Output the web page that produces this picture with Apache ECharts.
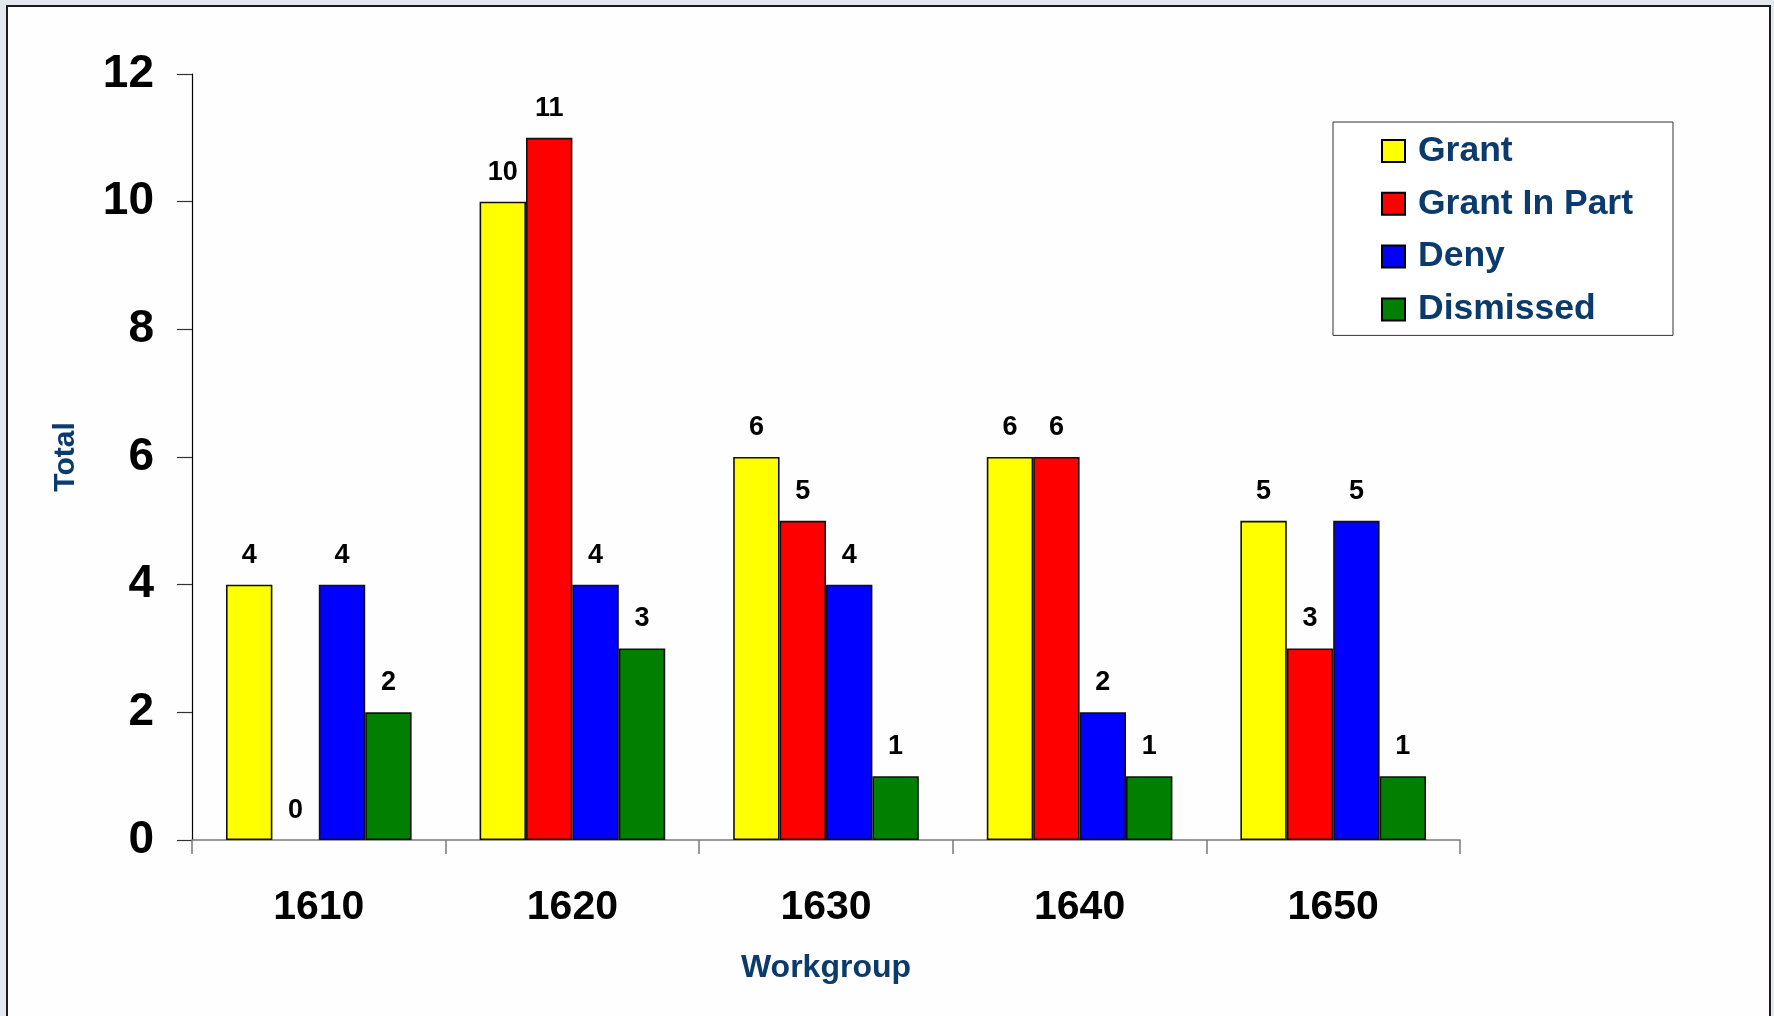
<!DOCTYPE html>
<html>
<head>
<meta charset="utf-8">
<title>Workgroup Totals</title>
<script src="https://cdn.jsdelivr.net/npm/echarts@6/dist/echarts.min.js"></script>
<style>
  html, body { margin: 0; padding: 0; background: #e3e8ee; }
  #chart { width: 1774px; height: 1016px; }
</style>
</head>
<body>
<div id="chart"></div>
<script>
// Workgroups along the x axis
const workgroups = ['1610', '1620', '1630', '1640', '1650'];

// Decision counts per workgroup
const grant       = [4, 10, 6, 6, 5];
const grantInPart = [0, 11, 5, 6, 3];
const deny        = [4, 4, 4, 2, 5];
const dismissed   = [2, 3, 1, 1, 1];

// Y axis range and step
const yMin = 0;
const yMax = 12;
const yStep = 2;

const FONT = "'Liberation Sans', Arial, Helvetica, sans-serif";
const NAVY = '#0b3a6c';

// Zero-height bars get no outline so no stray stroke sits on the axis
function barData(values) {
  return values.map(v => v === 0 ? { value: v, itemStyle: { borderWidth: 0 } } : v);
}

function makeSeries(name, values, color) {
  return {
    name: name,
    type: 'bar',
    data: barData(values),
    barGap: '0%',
    barCategoryGap: '26.8%',
    itemStyle: { color: color, borderColor: '#111', borderWidth: 1.6 },
    label: {
      show: true,
      position: 'top',
      distance: 16,
      color: '#000',
      fontFamily: FONT,
      fontWeight: 'bold',
      fontSize: 27
    },
    emphasis: { disabled: true }
  };
}

const chart = echarts.init(document.getElementById('chart'), null, { renderer: 'canvas' });

chart.setOption({
  animation: false,
  backgroundColor: 'transparent',
  graphic: [
    {
      type: 'rect',
      silent: true,
      z: -100,
      shape: { x: 7, y: 6, width: 1763, height: 1030 },
      style: { fill: '#fefefe', stroke: '#1c1c1c', lineWidth: 2 }
    }
  ],
  grid: { left: 192, right: 314, top: 74, bottom: 176, containLabel: false },
  legend: {
    orient: 'vertical',
    left: 1333,
    top: 122,
    padding: [11, 40, 8, 48],
    itemGap: 16.8,
    itemWidth: 23,
    itemHeight: 22,
    icon: 'rect',
    backgroundColor: '#ffffff',
    borderColor: '#333',
    borderWidth: 1,
    borderRadius: 0,
    itemStyle: { borderColor: '#000', borderWidth: 2 },
    textStyle: {
      color: NAVY,
      fontFamily: FONT,
      fontWeight: 'bold',
      fontSize: 35.5,
      padding: [0, 0, 0, 8]
    },
    selectedMode: false
  },
  xAxis: {
    type: 'category',
    data: workgroups,
    boundaryGap: true,
    name: 'Workgroup',
    nameLocation: 'middle',
    nameGap: 112,
    nameTextStyle: { color: NAVY, fontFamily: FONT, fontWeight: 'bold', fontSize: 32 },
    axisLine: { show: true, lineStyle: { color: '#7a7a7a', width: 1.5 } },
    axisTick: { show: true, alignWithLabel: false, length: 14, lineStyle: { color: '#7a7a7a', width: 1.5 } },
    axisLabel: {
      color: '#000',
      fontFamily: FONT,
      fontWeight: 'bold',
      fontSize: 41,
      margin: 47
    },
    splitLine: { show: false }
  },
  yAxis: {
    type: 'value',
    min: yMin,
    max: yMax,
    interval: yStep,
    name: 'Total',
    nameLocation: 'middle',
    nameRotate: 90,
    nameGap: 111,
    nameTextStyle: { color: NAVY, fontFamily: FONT, fontWeight: 'bold', fontSize: 30 },
    axisLine: { show: true, lineStyle: { color: '#000', width: 1.2 } },
    axisTick: { show: true, inside: false, length: 15, lineStyle: { color: '#333', width: 1.2 } },
    axisLabel: {
      color: '#000',
      fontFamily: FONT,
      fontWeight: 'bold',
      fontSize: 46,
      margin: 38,
      padding: [6, 0, 0, 0]
    },
    splitLine: { show: false }
  },
  series: [
    makeSeries('Grant', grant, '#ffff00'),
    makeSeries('Grant In Part', grantInPart, '#ff0000'),
    makeSeries('Deny', deny, '#0000ff'),
    makeSeries('Dismissed', dismissed, '#007f00')
  ]
});
</script>
</body>
</html>
